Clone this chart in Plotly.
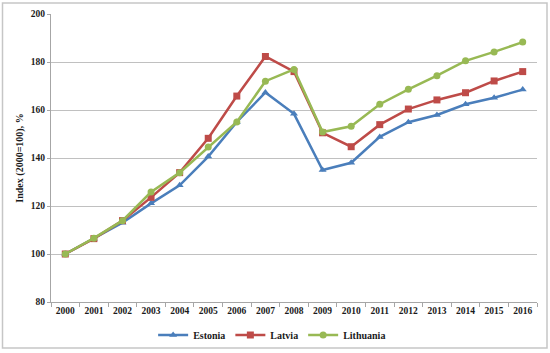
import plotly.graph_objects as go

years = [str(y) for y in range(2000, 2017)]
estonia = [100, 106.4, 113.0, 121.1, 128.6, 140.6, 155.0, 167.3, 158.4, 135.0, 138.0, 148.8, 154.9, 157.9, 162.4, 165.1, 168.5]
latvia = [100, 106.4, 113.9, 123.6, 133.9, 148.2, 165.8, 182.3, 176.0, 150.5, 144.7, 153.9, 160.4, 164.2, 167.2, 172.1, 176.0]
lithuania = [100, 106.6, 113.9, 125.8, 133.9, 144.6, 155.0, 172.0, 176.9, 150.8, 153.2, 162.4, 168.6, 174.3, 180.5, 184.2, 188.3]

series = [
    ("Estonia", estonia, "#4A7EBB", "triangle-up"),
    ("Latvia", latvia, "#BE4B48", "square"),
    ("Lithuania", lithuania, "#98B954", "circle"),
]

FONT = "Liberation Serif"
TXT = "#1a1a1a"

fig = go.Figure()
for name, vals, color, sym in series:
    fig.add_trace(go.Scatter(
        x=years, y=vals, name=name, mode="lines+markers",
        line=dict(color=color, width=2.5),
        marker=dict(symbol=sym, size=7, color=color),
    ))

# plot area: x 51..537, y 14..302 px
L, R, T, B = 51, 13, 14, 51
W, H = 550, 353
pw, ph = W - L - R, H - T - B

def px_x(p):
    return (p - L) / pw

def px_y(p):
    return (H - B - p) / ph

fig.add_shape(type="rect", xref="paper", yref="paper",
              x0=px_x(2.5), x1=px_x(547), y0=px_y(348), y1=px_y(3),
              line=dict(color="#C6C6C6", width=1.5), layer="below")

fig.update_layout(
    width=W, height=H,
    margin=dict(l=L, r=R, t=T, b=B, autoexpand=False),
    paper_bgcolor="white", plot_bgcolor="white",
    font=dict(family=FONT, size=10, color=TXT, weight="bold"),
    showlegend=True,
    legend=dict(orientation="h", x=0.455, xanchor="center",
                y=px_y(335), yanchor="middle",
                font=dict(family=FONT, size=10, color=TXT, weight="bold"),
                itemwidth=30, tracegroupgap=0, bgcolor="rgba(0,0,0,0)"),
    xaxis=dict(type="category", range=[-0.5, 16.5], showgrid=False,
               showline=True, linecolor="#A6A6A6", linewidth=1,
               ticks="outside", tickson="boundaries", ticklen=4, tickcolor="#A6A6A6",
               tickangle=0, automargin=False,
               tickfont=dict(family=FONT, size=9.5, color=TXT, weight="bold")),
    yaxis=dict(range=[80, 200], dtick=20, showgrid=True, gridcolor="#C0C0C0", gridwidth=1,
               showline=True, linecolor="#A6A6A6", linewidth=1,
               ticks="outside", ticklen=3, tickcolor="#A6A6A6", zeroline=False,
               automargin=False,
               tickfont=dict(family=FONT, size=9.5, color=TXT, weight="bold"),
               title=dict(text="Index (2000=100), %", standoff=5,
                          font=dict(family=FONT, size=10, color=TXT, weight="bold"))),
)

fig.write_html("out.html", config={"displayModeBar": False},
               post_script="document.body.style.margin='0';document.body.style.overflow='hidden';")
